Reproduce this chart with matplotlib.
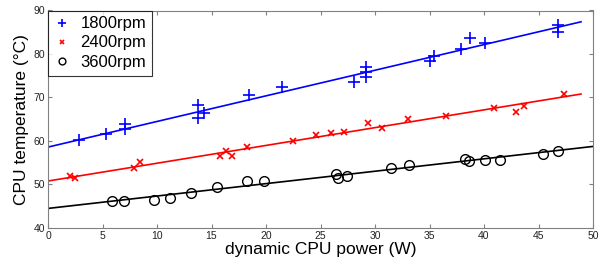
import matplotlib
matplotlib.use("Agg")
import matplotlib.pyplot as plt

plt.rcParams["font.family"] = ["Liberation Sans", "DejaVu Sans"]

# 1800rpm
x1800 = [2.8, 5.3, 7.1, 7.1, 13.75, 13.8, 14.3, 18.4, 21.5, 28.1, 29.15, 29.2, 29.2,
         35.0, 35.4, 37.9, 38.7, 40.1, 46.8, 46.8]
y1800 = [60.2, 61.5, 63.8, 62.7, 68.3, 65.2, 66.4, 70.6, 72.5, 73.5, 74.7, 75.8, 76.9,
         78.5, 79.6, 81.1, 83.6, 82.5, 85.0, 86.7]
# 2400rpm
x2400 = [2.06, 2.5, 7.9, 8.45, 15.8, 16.3, 16.9, 18.3, 22.5, 24.6, 25.95, 27.2, 29.4,
         30.6, 33.0, 36.5, 40.9, 42.9, 43.7, 47.35]
y2400 = [51.9, 51.4, 53.7, 55.1, 56.5, 57.6, 56.5, 58.7, 60.0, 61.4, 61.8, 62.05, 64.05,
         63.1, 65.05, 65.8, 67.5, 66.6, 68.0, 70.7]
# 3600rpm
x3600 = [5.88, 7.0, 9.7, 11.2, 13.1, 15.5, 18.25, 19.8, 26.4, 26.6, 27.45, 31.5, 33.1,
         38.3, 38.6, 40.1, 41.5, 45.4, 46.8]
y3600 = [46.15, 46.2, 46.5, 47.0, 48.0, 49.45, 50.75, 50.9, 52.5, 51.45, 51.9, 53.7, 54.5,
         55.9, 55.4, 55.6, 55.7, 56.9, 57.8]

# fitted lines (endpoints)
fit1800_x = [0, 48.9]
fit1800_y = [58.6, 87.4]
fit2400_x = [0, 48.9]
fit2400_y = [50.8, 70.8]
fit3600_x = [0, 50]
fit3600_y = [44.5, 58.75]

labels = ["1800rpm", "2400rpm", "3600rpm"]
xticks = [0, 5, 10, 15, 20, 25, 30, 35, 40, 45, 50]
yticks = [40, 50, 60, 70, 80, 90]

fig = plt.figure(figsize=(5.99, 2.65), dpi=100)
ax = fig.add_axes([48 / 599, 37 / 265, 545 / 599, 217.5 / 265])

ax.plot(x1800, y1800, linestyle="none", marker="+", color="#0000ff", markersize=8,
        markeredgewidth=1.2, label=labels[0])
ax.plot(x2400, y2400, linestyle="none", marker="x", color="#ff0000", markersize=5,
        markeredgewidth=1.2, label=labels[1])
ax.plot(x3600, y3600, linestyle="none", marker="o", color="black", markerfacecolor="none",
        markersize=7, markeredgewidth=1.0, label=labels[2])

ax.plot(fit1800_x, fit1800_y, color="#0000ff", linewidth=1.2)
ax.plot(fit2400_x, fit2400_y, color="#ff0000", linewidth=1.2)
ax.plot(fit3600_x, fit3600_y, color="black", linewidth=1.2)

ax.set_xlim(0, 50)
ax.set_ylim(40, 90)
ax.set_xticks(xticks)
ax.set_yticks(yticks)
ax.tick_params(direction="in", top=True, right=True, labelsize=7.5, length=3,
               color="#808080", labelcolor="#222222", pad=2)
for s in ax.spines.values():
    s.set_color("#808080")
    s.set_linewidth(0.8)

ax.set_xlabel("dynamic CPU power (W)", fontsize=12.5, labelpad=1)
ax.set_ylabel("CPU temperature (°C)", fontsize=12.5, labelpad=3)

leg = ax.legend(loc="upper left", fontsize=12, frameon=True, fancybox=False,
                borderaxespad=0, handlelength=1.0, handletextpad=0.6,
                borderpad=0.35, labelspacing=0.25, markerscale=0.7)
leg.get_frame().set_edgecolor("black")
leg.get_frame().set_linewidth(0.8)

fig.savefig("out.png", dpi=100)
